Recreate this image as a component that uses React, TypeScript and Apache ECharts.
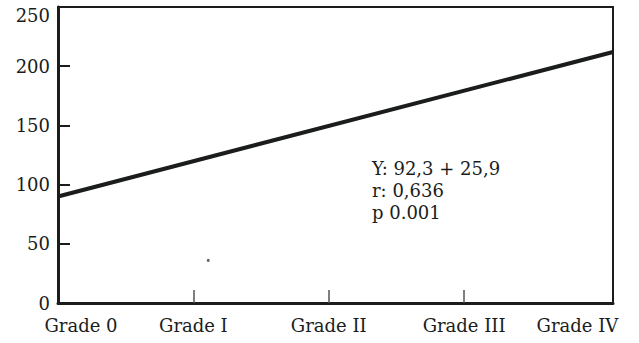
import React, { useEffect, useRef } from "react";
import * as echarts from "echarts";

const gradeLabels = ["Grade 0", "Grade I", "Grade II", "Grade III", "Grade IV"];
const gradeValues = [0, 1, 2, 3, 4];
const innerTicks = [1, 2, 3];
const lineX = [0, 4.1];
const lineY = [90, 212];
const strayPoint = [[1.11, 36]];
const annotation = ["Y: 92,3 + 25,9", "r: 0,636", "p 0.001"];

const FONT = "DejaVu Serif";
const INK = "#1a1d1c";

export default function App() {
  const ref = useRef<HTMLDivElement>(null);
  useEffect(() => {
    const chart = echarts.init(ref.current!, null, { renderer: "svg" });
    chart.setOption({
      animation: false,
      backgroundColor: "#ffffff",
      grid: {
        left: 58,
        right: 26,
        top: 7,
        bottom: 40,
        show: true,
        borderColor: INK,
        borderWidth: 2,
      },
      xAxis: {
        type: "value",
        min: 0,
        max: 4.1,
        interval: 1,
        splitLine: { show: false },
        axisLine: { lineStyle: { color: INK, width: 3 } },
        axisTick: {
          inside: true,
          length: 13,
          customValues: innerTicks,
          lineStyle: { color: "#555", width: 1.5 },
        },
        axisLabel: {
          customValues: gradeValues,
          margin: 13,
          color: INK,
          fontFamily: FONT,
          fontSize: 18,
          formatter: (v: number) => {
            const i = Math.round(v);
            if (i === 0) return "{first|" + gradeLabels[0] + "}";
            if (i === 4) return "{last|" + gradeLabels[4] + "}";
            return gradeLabels[i] ?? "";
          },
          rich: {
            first: { fontFamily: FONT, fontSize: 18, color: INK, padding: [0, 0, 0, 46] },
            last: { fontFamily: FONT, fontSize: 18, color: INK, padding: [0, 44, 0, 0] },
          },
        },
      },
      yAxis: {
        type: "value",
        min: 0,
        max: 250,
        interval: 50,
        splitLine: { show: false },
        axisLine: { show: true, lineStyle: { color: INK, width: 3 } },
        axisTick: { show: true, inside: true, length: 12, lineStyle: { color: INK, width: 2 } },
        axisLabel: {
          margin: 8,
          color: INK,
          fontFamily: FONT,
          fontSize: 18,
          formatter: (v: number) => (v === 250 ? "{top|250}" : String(v)),
          rich: {
            top: { fontFamily: FONT, fontSize: 18, color: INK, padding: [16, 0, 0, 0] },
          },
        },
      },
      series: [
        {
          type: "line",
          data: lineX.map((x, i) => [x, lineY[i]]),
          symbol: "none",
          lineStyle: { color: INK, width: 4 },
        },
        {
          type: "scatter",
          data: strayPoint,
          symbolSize: 3,
          itemStyle: { color: "#444" },
        },
      ],
      graphic: [
        {
          type: "text",
          left: 372,
          top: 157,
          style: {
            text: annotation.join("\n"),
            fontFamily: FONT,
            fontSize: 18,
            lineHeight: 22,
            fill: INK,
          },
        },
      ],
    });
    return () => chart.dispose();
  }, []);
  return <div ref={ref} style={{ width: 639, height: 343, position: "absolute", left: 0, top: 0 }} />;
}
